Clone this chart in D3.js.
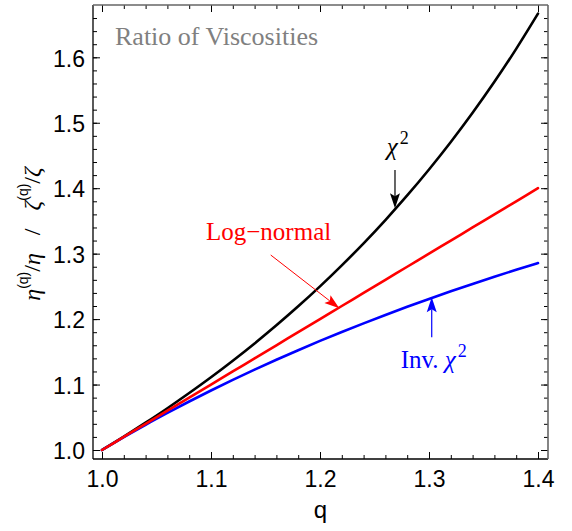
<!DOCTYPE html>
<html><head><meta charset="utf-8">
<script src="https://cdn.jsdelivr.net/npm/d3@7"></script>
<style>
html,body{margin:0;padding:0;background:#fff;}
svg{display:block;}
</style></head>
<body>
<svg id="chart" width="572" height="531"></svg>
<script>
// ---- data ----
const qValues   = [1.00,1.02,1.04,1.06,1.08,1.10,1.12,1.14,1.16,1.18,1.20,1.22,1.24,1.26,1.28,1.30,1.32,1.34,1.36,1.38,1.40];
const chi2      = [1.000,1.0204,1.0417,1.0638,1.0870,1.1111,1.1364,1.1628,1.1905,1.2195,1.2500,1.2821,1.3158,1.3514,1.3889,1.4286,1.4706,1.5152,1.5625,1.6129,1.6667];
const logNormal = [1.000,1.020,1.040,1.060,1.080,1.100,1.120,1.140,1.160,1.180,1.200,1.220,1.240,1.260,1.280,1.300,1.320,1.340,1.360,1.380,1.400];
const invChi2   = [1.000,1.0196,1.0385,1.0566,1.0741,1.0909,1.1071,1.1228,1.1379,1.1525,1.1667,1.1803,1.1935,1.2063,1.2188,1.2308,1.2424,1.2537,1.2647,1.2754,1.2857];
const xTicks = [1.0,1.1,1.2,1.3,1.4];
const xTickLabels = ["1.0","1.1","1.2","1.3","1.4"];
const yTicks = [1.0,1.1,1.2,1.3,1.4,1.5,1.6];
const yTickLabels = ["1.0","1.1","1.2","1.3","1.4","1.5","1.6"];
const xMinor = [1.00,1.02,1.04,1.06,1.08,1.10,1.12,1.14,1.16,1.18,1.20,1.22,1.24,1.26,1.28,1.30,1.32,1.34,1.36,1.38,1.40];
const yMinor = [1.00,1.02,1.04,1.06,1.08,1.10,1.12,1.14,1.16,1.18,1.20,1.22,1.24,1.26,1.28,1.30,1.32,1.34,1.36,1.38,1.40,1.42,1.44,1.46,1.48,1.50,1.52,1.54,1.56,1.58,1.60,1.62,1.64,1.66];

// ---- layout ----
const frame = {left:93, right:548, top:5, bottom:459};
const x = d3.scaleLinear().domain([1.0,1.4]).range([102,538]);
const y = d3.scaleLinear().domain([1.0,1.6]).range([450,57.3]);

const svg = d3.select("#chart");
const serif = "'Liberation Serif','Times New Roman',serif";
const sans = "'Liberation Sans',Arial,sans-serif";

// curves
const line = d3.line().x((d,i)=>x(qValues[i])).y(d=>y(d)).curve(d3.curveMonotoneX);
const series = [
  {vals:chi2, color:"#000000"},
  {vals:invChi2, color:"#0000ff"},
  {vals:logNormal, color:"#ff0000"}
];
svg.append("g").selectAll("path").data(series).join("path")
  .attr("d", d=>line(d.vals))
  .attr("fill","none").attr("stroke",d=>d.color)
  .attr("stroke-width",2.6).attr("stroke-linecap","round").attr("stroke-linejoin","round");

// axes (ticks inside)
function styleAxis(g){ g.select(".domain").remove(); g.selectAll("line").attr("stroke","#000").attr("stroke-width",1); }
const fmtX = (d)=>xTickLabels[xTicks.indexOf(d)];
const fmtY = (d)=>yTickLabels[yTicks.indexOf(d)];

// bottom
const gb = svg.append("g").attr("transform",`translate(0,${frame.bottom})`);
gb.append("g").call(d3.axisBottom(x).tickValues(xMinor).tickSize(-4).tickFormat("")).call(styleAxis);
gb.append("g").call(d3.axisBottom(x).tickValues(xTicks).tickSize(-7).tickFormat(fmtX)).call(styleAxis)
  .selectAll("text").attr("y",0).attr("dy",28).attr("font-family",sans).attr("font-size",23).attr("fill","#000");
// top
const gt = svg.append("g").attr("transform",`translate(0,${frame.top})`);
gt.append("g").call(d3.axisTop(x).tickValues(xMinor).tickSize(-4).tickFormat("")).call(styleAxis);
gt.append("g").call(d3.axisTop(x).tickValues(xTicks).tickSize(-7).tickFormat("")).call(styleAxis);
// left
const gl = svg.append("g").attr("transform",`translate(${frame.left},0)`);
gl.append("g").call(d3.axisLeft(y).tickValues(yMinor).tickSize(-4).tickFormat("")).call(styleAxis);
gl.append("g").call(d3.axisLeft(y).tickValues(yTicks).tickSize(-7).tickFormat(fmtY)).call(styleAxis)
  .selectAll("text").attr("x",-8).attr("dy",8.7).attr("font-family",sans).attr("font-size",23).attr("fill","#000");
// right
const gr = svg.append("g").attr("transform",`translate(${frame.right},0)`);
gr.append("g").call(d3.axisRight(y).tickValues(yMinor).tickSize(-4).tickFormat("")).call(styleAxis);
gr.append("g").call(d3.axisRight(y).tickValues(yTicks).tickSize(-7).tickFormat("")).call(styleAxis);

// frame
svg.append("line").attr("x1",frame.left).attr("x2",frame.right).attr("y1",frame.bottom).attr("y2",frame.bottom).attr("stroke","#000").attr("stroke-width",1.3);
svg.append("line").attr("x1",frame.left).attr("x2",frame.left).attr("y1",frame.top).attr("y2",frame.bottom).attr("stroke","#000").attr("stroke-width",1.3);
svg.append("line").attr("x1",frame.left).attr("x2",frame.right).attr("y1",frame.top).attr("y2",frame.top).attr("stroke","#666").attr("stroke-width",1.6);
svg.append("line").attr("x1",frame.right).attr("x2",frame.right).attr("y1",frame.top).attr("y2",frame.bottom).attr("stroke","#666").attr("stroke-width",1.6);

// x label
svg.append("text").attr("x",(frame.left+frame.right)/2).attr("y",518).attr("text-anchor","middle")
  .attr("font-family",sans).attr("font-size",24).text("q");

// y label
const yl = svg.append("text").attr("transform","translate(40,234) rotate(-90)").attr("text-anchor","middle")
  .attr("font-family",serif).attr("font-size",24).attr("fill","#000");
yl.append("tspan").attr("font-style","italic").text("η");
yl.append("tspan").attr("font-family",sans).attr("font-size",14).attr("dy",-12).text("(q)");
yl.append("tspan").attr("dy",12).text("/");
yl.append("tspan").attr("font-style","italic").text("η");
yl.append("tspan").attr("xml:space","preserve").text("   /   ");
yl.append("tspan").attr("font-style","italic").text("ζ");
yl.append("tspan").attr("font-family",sans).attr("font-size",14).attr("dy",-12).text("(q)");
yl.append("tspan").attr("dy",12).text("/");
yl.append("tspan").attr("font-style","italic").text("ζ");

// title
svg.append("text").attr("x",115).attr("y",44.5).attr("font-family",serif).attr("font-size",26)
  .attr("fill","#808080").text("Ratio of Viscosities");

// annotations
const annotations = [
  {label:"chi", color:"#000", tq:1.2612, tv:1.4507, from:[1.2688,1.4278], to:[1.2688,1.3693], width:1.2},
  {label:"log", color:"#ff0000", tq:1.0954, tv:1.3209, from:[1.1548,1.2979], to:[1.2177,1.2165], width:1},
  {label:"inv", color:"#0000ff", tq:1.2740, tv:1.1253, from:[1.3025,1.1722], to:[1.3025,1.2333], width:1.2}
];
annotations.forEach(a=>{
  const t = svg.append("text").attr("x",x(a.tq)).attr("y",y(a.tv)).attr("font-family",serif)
    .attr("font-size",25).attr("fill",a.color);
  if(a.label==="chi"){
    t.append("tspan").attr("font-style","italic").text("χ");
    t.append("tspan").attr("font-size",18).attr("dy",-11).attr("dx",2).text("2");
  } else if(a.label==="log"){
    t.text("Log−normal");
  } else {
    t.append("tspan").text("Inv. ");
    t.append("tspan").attr("font-style","italic").text("χ");
    t.append("tspan").attr("font-size",18).attr("dy",-11).attr("dx",2).text("2");
  }
  const x1=x(a.from[0]), y1=y(a.from[1]), x2=x(a.to[0]), y2=y(a.to[1]);
  const ang=Math.atan2(y2-y1,x2-x1), L=15, W=5, N=3;
  const ux=Math.cos(ang), uy=Math.sin(ang), px=-uy, py=ux;
  svg.append("line").attr("x1",x1).attr("y1",y1).attr("x2",x2-ux*L*0.8).attr("y2",y2-uy*L*0.8)
    .attr("stroke",a.color).attr("stroke-width",a.width);
  const bx=x2-ux*L, by=y2-uy*L;
  svg.append("path").attr("d",`M${x2},${y2}L${bx+px*W},${by+py*W}L${x2-ux*(L-N)},${y2-uy*(L-N)}L${bx-px*W},${by-py*W}Z`)
    .attr("fill",a.color);
});
</script>
</body></html>
